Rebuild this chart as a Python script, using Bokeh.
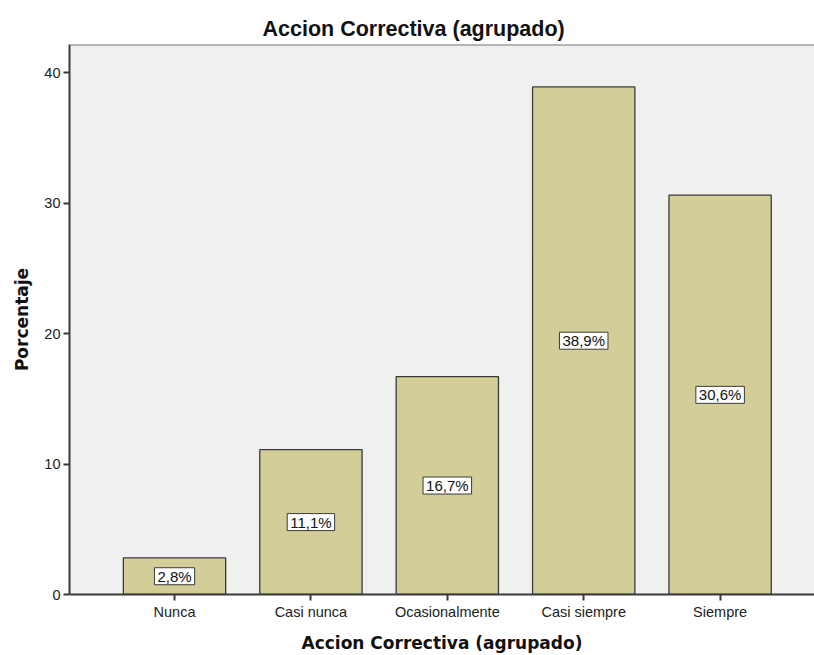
from bokeh.plotting import figure
from bokeh.models import ColumnDataSource, Range1d, FixedTicker, Label, Span, Title
from bokeh.embed import file_html
from bokeh.resources import INLINE

categories = ["Nunca", "Casi nunca", "Ocasionalmente", "Casi siempre", "Siempre"]
percentages = [2.8, 11.1, 16.7, 38.9, 30.6]
value_labels = ["2,8%", "11,1%", "16,7%", "38,9%", "30,6%"]
y_ticks = [0, 10, 20, 30, 40]

positions = list(range(1, len(categories) + 1))
src = ColumnDataSource(dict(
    x=positions,
    top=percentages,
))

FONT = "Liberation Sans"
BOLDFONT = "DejaVu Sans"
DARK = "#3a3a3a"

p = figure(width=814, height=655, output_backend="svg", toolbar_location=None,
           x_range=Range1d(0.23, 5.692), y_range=Range1d(0, 42.15),
           min_border_left=69, min_border_right=0, min_border_top=44, min_border_bottom=61,
           background_fill_color="#f0f0f0", border_fill_color="white")

p.title = Title(text="Accion Correctiva (agrupado)", align="left", offset=193,
                text_font=FONT, text_font_size="21.5px", text_font_style="bold",
                text_color="#111111", standoff=7)

p.vbar(x="x", top="top", width=0.75, bottom=0, source=src,
       fill_color="#d3ce97", line_color=DARK, line_width=1.3)

for xpos, v, lab in zip(positions, percentages, value_labels):
    p.add_layout(Label(x=xpos, y=v / 2, text=lab,
                       text_align="center", text_baseline="middle",
                       text_font=FONT, text_font_size="15px", text_color="#111111",
                       background_fill_color="white", border_line_color=DARK,
                       border_line_width=1,
                       padding=dict(left=3, right=3, top=0, bottom=0)))

p.outline_line_color = None
p.add_layout(Span(location=42.15, dimension="width", line_color="#777777", line_width=2))

p.xgrid.visible = False
p.ygrid.visible = False

p.xaxis.ticker = FixedTicker(ticks=positions)
p.xaxis.major_label_overrides = {pos: c for pos, c in zip(positions, categories)}
p.xaxis.axis_label = "Accion Correctiva (agrupado)"
p.yaxis.ticker = FixedTicker(ticks=y_ticks)
p.yaxis.axis_label = "Porcentaje"

for ax in (p.xaxis, p.yaxis):
    ax.axis_line_color = DARK
    ax.axis_line_width = 2
    ax.major_tick_line_color = DARK
    ax.major_tick_line_width = 2
    ax.major_tick_out = 6
    ax.major_tick_in = 0
    ax.minor_tick_line_color = None
    ax.major_label_text_font = FONT
    ax.major_label_text_font_size = "14.5px"
    ax.major_label_text_color = "#222222"
    ax.axis_label_text_font = BOLDFONT
    ax.axis_label_text_font_size = "17px"
    ax.axis_label_text_font_style = "bold"
    ax.axis_label_text_color = "#111111"

p.xaxis.major_label_standoff = 3
p.xaxis.axis_label_standoff = 10
p.yaxis.major_label_standoff = 3
p.yaxis.axis_label_standoff = 9

open("out.html", "w").write(file_html(p, INLINE))
